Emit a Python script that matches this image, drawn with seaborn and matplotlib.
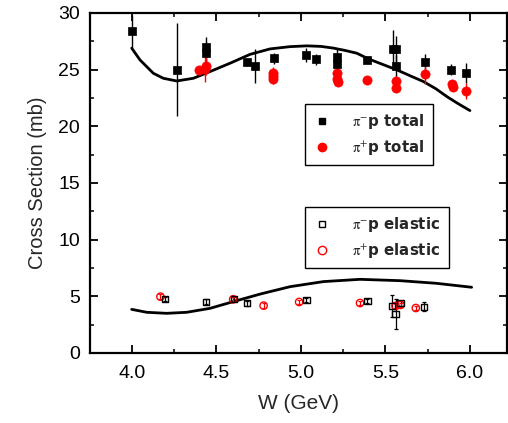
import matplotlib
matplotlib.use("Agg")
import matplotlib.pyplot as plt
from matplotlib.ticker import MultipleLocator
from matplotlib.lines import Line2D
import seaborn as sns

# pi- p total cross section
pim_tot_W = [4.00, 4.266, 4.438, 4.438, 4.684, 4.731, 4.84, 5.033, 5.089, 5.215, 5.215,
             5.394, 5.545, 5.56, 5.56, 5.735, 5.889, 5.974]
pim_tot_sig = [28.4, 25.0, 27.0, 26.5, 25.65, 25.3, 26.0, 26.3, 25.9, 26.1, 25.5,
               25.85, 26.8, 26.8, 25.3, 25.7, 25.0, 24.7]
pim_tot_err = [1.45, 4.1, 0.9, 0.9, 0.3, 1.5, 0.5, 0.65, 0.45, 0.7, 0.5,
               0.3, 1.7, 1.2, 1.0, 0.7, 0.5, 0.9]

# pi+ p total cross section
pip_tot_W = [4.40, 4.435, 4.44, 4.834, 4.834, 4.838, 5.215, 5.215, 5.22, 5.394,
             5.56, 5.56, 5.735, 5.893, 5.897, 5.974]
pip_tot_sig = [24.95, 25.1, 25.3, 24.7, 24.45, 24.15, 24.7, 24.2, 23.95, 24.1,
               24.0, 23.4, 24.6, 23.7, 23.5, 23.15]
pip_tot_err = [0.3, 1.2, 0.8, 0.5, 0.5, 0.4, 0.5, 0.5, 0.4, 0.3,
               0.4, 0.4, 0.9, 0.4, 0.4, 0.7]

# pi- p elastic cross section
pim_el_W = [4.199, 4.438, 4.606, 4.684, 5.033, 5.394, 5.54, 5.56, 5.59, 5.73]
pim_el_sig = [4.77, 4.53, 4.77, 4.38, 4.68, 4.59, 4.15, 3.44, 4.38, 4.09]
pim_el_err = [0.2, 0.2, 0.2, 0.2, 0.2, 0.2, 1.0, 1.35, 0.2, 0.4]

# pi+ p elastic cross section
pip_el_W = [4.17, 4.60, 4.78, 4.99, 5.35, 5.56, 5.59, 5.68]
pip_el_sig = [4.97, 4.74, 4.18, 4.5, 4.41, 4.15, 4.24, 3.97]
pip_el_err = [0.2, 0.2, 0.2, 0.2, 0.2, 0.2, 0.2, 0.2]

# model curves
tot_curve_W = [4.00, 4.049, 4.128, 4.187, 4.266, 4.365, 4.463, 4.582, 4.70, 4.818,
               4.936, 5.036, 5.12, 5.193, 5.26, 5.331, 5.40, 5.46, 5.568, 5.64,
               5.725, 5.80, 5.864, 5.93, 6.00]
tot_curve_sig = [26.9, 25.86, 24.68, 24.24, 24.0, 24.24, 24.83, 25.57, 26.35, 26.83,
                 27.03, 27.1, 27.05, 26.9, 26.7, 26.45, 25.95, 25.6, 24.98, 24.5,
                 23.95, 23.3, 22.62, 22.0, 21.39]
el_curve_W = [4.00, 4.089, 4.207, 4.325, 4.463, 4.60, 4.76, 4.936, 5.134, 5.35,
              5.588, 5.80, 6.01]
el_curve_sig = [3.85, 3.59, 3.5, 3.59, 3.94, 4.53, 5.2, 5.85, 6.3, 6.5,
                6.38, 6.15, 5.8]

tot_labels = [r"$\mathrm{\pi}^{-}$p total", r"$\mathrm{\pi}^{+}$p total"]
el_labels = [r"$\mathrm{\pi}^{-}$p elastic", r"$\mathrm{\pi}^{+}$p elastic"]

sns.set_theme(style="ticks")
plt.rcParams["font.family"] = ["Liberation Sans", "DejaVu Sans"]
plt.rcParams["mathtext.fontset"] = "stix"

fig = plt.figure(figsize=(5.08, 4.23), dpi=100)
ax = fig.add_axes([0.177, 0.1655, 0.822, 0.8038])

red = "#ff0000"

# model curves
sns.lineplot(x=tot_curve_W, y=tot_curve_sig, ax=ax, color="black", lw=2.0,
             sort=False, estimator=None)
sns.lineplot(x=el_curve_W, y=el_curve_sig, ax=ax, color="black", lw=2.0,
             sort=False, estimator=None)

# error bars
ax.errorbar(pim_tot_W, pim_tot_sig, yerr=pim_tot_err, fmt="none", ecolor="black",
            elinewidth=1.0, zorder=2)
ax.errorbar(pip_tot_W, pip_tot_sig, yerr=pip_tot_err, fmt="none", ecolor=red,
            elinewidth=1.0, zorder=2)
ax.errorbar(pim_el_W, pim_el_sig, yerr=pim_el_err, fmt="none", ecolor="black",
            elinewidth=0.9, capsize=1.5, capthick=0.9, zorder=2)
ax.errorbar(pip_el_W, pip_el_sig, yerr=pip_el_err, fmt="none", ecolor=red,
            elinewidth=0.9, capsize=1.5, capthick=0.9, zorder=2)

# data points
sns.scatterplot(x=pim_tot_W, y=pim_tot_sig, ax=ax, marker="s", s=36,
                color="black", edgecolor="black", linewidth=0.5, zorder=4)
sns.scatterplot(x=pip_tot_W, y=pip_tot_sig, ax=ax, marker="o", s=44,
                color=red, edgecolor=red, linewidth=0.5, zorder=3)
sns.scatterplot(x=pim_el_W, y=pim_el_sig, ax=ax, marker="s", s=20,
                facecolor="none", edgecolor="black", linewidth=1.0, zorder=4)
sns.scatterplot(x=pip_el_W, y=pip_el_sig, ax=ax, marker="o", s=28,
                facecolor="none", edgecolor=red, linewidth=1.0, zorder=3)

ax.set_xlim(3.753, 6.222)
ax.set_ylim(0, 30)
ax.xaxis.set_major_locator(MultipleLocator(0.5))
ax.xaxis.set_minor_locator(MultipleLocator(0.25))
ax.yaxis.set_major_locator(MultipleLocator(5))
ax.yaxis.set_minor_locator(MultipleLocator(2.5))
ax.set_xticks([4.0, 4.5, 5.0, 5.5, 6.0])
ax.set_xticklabels(["4.0", "4.5", "5.0", "5.5", "6.0"])

for sp in ax.spines.values():
    sp.set_visible(True)
    sp.set_linewidth(1.6)
    sp.set_color("black")
ax.tick_params(which="both", direction="in", top=True, right=True, colors="black")
ax.tick_params(which="major", length=5.5, width=1.3, labelsize=14)
ax.tick_params(which="minor", length=3, width=1.1)
ax.tick_params(axis="x", which="major", pad=9)
ax.tick_params(axis="y", which="major", pad=7)

ax.set_xlabel("W (GeV)", fontsize=15, labelpad=8)
ax.set_ylabel("Cross Section (mb)", fontsize=14.5, labelpad=8)

# legends
leg_prop = {"family": "DejaVu Sans", "weight": "bold", "size": 10.8}
tot_handles = [
    Line2D([], [], ls="none", marker="s", ms=5, mfc="black", mec="black"),
    Line2D([], [], ls="none", marker="o", ms=6, mfc=red, mec=red),
]
el_handles = [
    Line2D([], [], ls="none", marker="s", ms=5, mfc="none", mec="black", mew=1.0),
    Line2D([], [], ls="none", marker="o", ms=6, mfc="none", mec=red, mew=1.0),
]
leg_kw = dict(loc="upper left", prop=leg_prop, frameon=True, fancybox=False,
              edgecolor="black", framealpha=1, handlelength=1.2,
              handletextpad=1.4, borderpad=0.55, labelspacing=0.45,
              borderaxespad=0)
leg1 = ax.legend(tot_handles, tot_labels, bbox_to_anchor=(0.515, 0.732), **leg_kw)
leg1.get_frame().set_linewidth(1.0)
ax.add_artist(leg1)
leg2 = ax.legend(el_handles, el_labels, bbox_to_anchor=(0.515, 0.429), **leg_kw)
leg2.get_frame().set_linewidth(1.0)

fig.savefig("out.png", dpi=100)
